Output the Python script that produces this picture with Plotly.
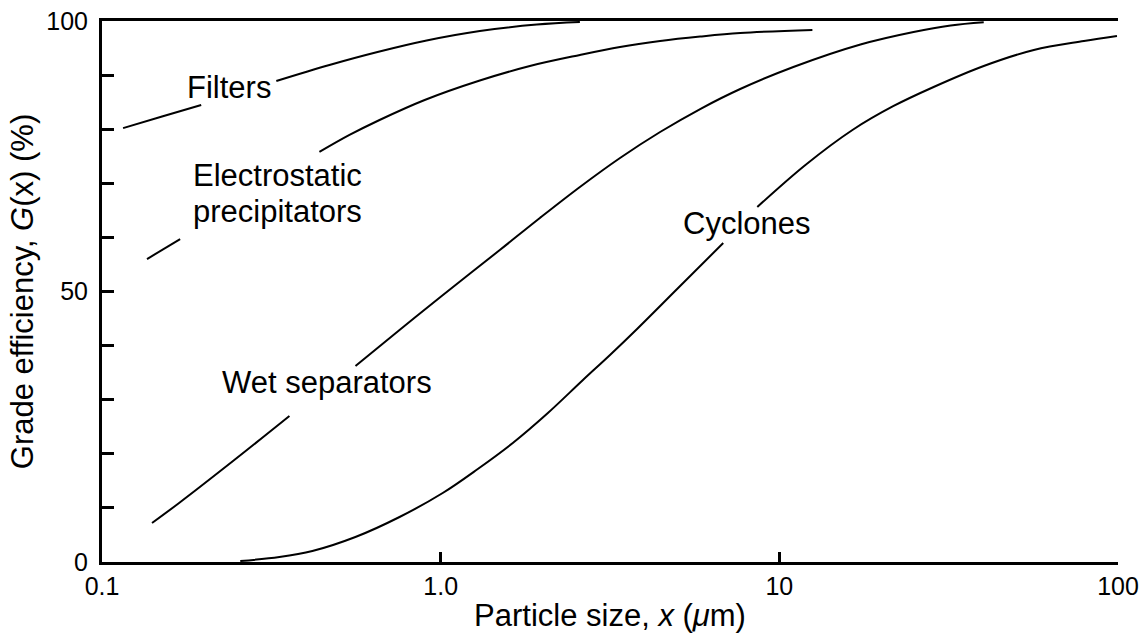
import math
import plotly.graph_objects as go

# Grade efficiency curves, G(x) in %, vs particle size x in micrometres.
# None entries break a curve where its label sits.
filters_x = [0.1154, 0.1504, 0.1963, None,
             0.3271, 0.4694, 0.651, 0.909, 1.305, 1.923, 2.577]
filters_y = [80.2, 82.35, 84.47, None,
             88.91, 91.87, 94.27, 96.40, 98.15, 99.35, 99.82]

esp_x = [0.1358, 0.1701, None,
         0.4385, 0.538, 0.660, 0.897, 1.305, 1.834, 2.577, 3.385, 4.446,
         5.838, 7.665, 12.52]
esp_y = [56.0, 59.7, None,
         75.79, 78.93, 81.70, 85.40, 89.00, 91.68, 93.72, 95.19, 96.30,
         97.13, 97.78, 98.34]

wet_x = [0.1405, 0.1689, 0.2458, 0.3576, None,
         0.5604, 0.756, 1.007, 1.495, 1.963, 2.577, 3.385, 4.446, 5.838,
         7.665, 11.0, 17.36, 24.91, 32.06, 40.14]
wet_y = [7.21, 10.91, 18.85, 26.99, None,
         36.23, 42.88, 49.17, 57.67, 63.59, 69.32, 74.68, 79.48, 83.73,
         87.43, 91.50, 95.66, 97.97, 99.17, 99.76]

cyclone_x = [0.256, 0.334, 0.418, 0.560, 0.756, 1.014, 1.287, 1.633, 2.073,
             2.631, 3.162, 3.801, 4.991, 6.829, None,
             8.609, 11.94, 16.44, 21.75, 28.55, 40.14, 56.42, 79.32, 99.3]
cyclone_y = [0.18, 0.92, 2.03, 4.62, 8.32, 12.75, 17.19, 22.0, 27.54,
             33.64, 38.26, 43.07, 50.46, 58.96, None,
             65.62, 73.38, 79.85, 84.29, 87.80, 91.68, 94.64, 96.30, 97.23]

x_tick_vals = [0.1, 1, 10, 100]
x_tick_text = ["0.1", "1.0", "10", "100"]
y_tick_vals = [0, 10, 20, 30, 40, 50, 60, 70, 80, 90, 100]
y_tick_text = ["0", "", "", "", "", "50", "", "", "", "", "100"]

# Curve labels: (text, x in µm, G in %, horizontal anchor)
labels = [
    ("Filters", 0.2375, 87.7, "center"),
    ("Electrostatic", 0.1834, 71.5, "left"),
    ("precipitators", 0.1834, 64.7, "left"),
    ("Wet separators", 0.463, 33.1, "center"),
    ("Cyclones", 8.04, 62.6, "center"),
]

FONT = "Liberation Sans, Arial, Helvetica, sans-serif"

fig = go.Figure()
for xs, ys in [(filters_x, filters_y), (esp_x, esp_y),
               (wet_x, wet_y), (cyclone_x, cyclone_y)]:
    fig.add_trace(go.Scatter(
        x=xs, y=ys, mode="lines",
        line=dict(color="black", width=2, shape="spline", smoothing=1.0),
        connectgaps=False, hoverinfo="skip", showlegend=False,
    ))

for text, xv, yv, anchor in labels:
    fig.add_annotation(
        x=math.log10(xv), y=yv, xref="x", yref="y", text=text,
        showarrow=False, xanchor=anchor, yanchor="middle",
        font=dict(family=FONT, size=31, color="black"),
    )

fig.update_xaxes(
    type="log", range=[-1, 2],
    tickvals=x_tick_vals, ticktext=x_tick_text,
    ticks="inside", ticklen=10, tickwidth=2.5, tickcolor="black",
    showline=True, linecolor="black", linewidth=2.5, mirror=True,
    showgrid=False, zeroline=False,
    tickfont=dict(family=FONT, size=25, color="black"),
    title=dict(text="Particle size, <i>x</i> (<i>μ</i>m)", standoff=6,
               font=dict(family=FONT, size=31, color="black")),
)
fig.update_yaxes(
    range=[0, 100],
    tickvals=y_tick_vals, ticktext=y_tick_text,
    ticks="inside", ticklen=12, tickwidth=2.5, tickcolor="black",
    showline=True, linecolor="black", linewidth=3,
    showgrid=False, zeroline=False,
    tickfont=dict(family=FONT, size=25, color="black"),
    ticklabelstandoff=6,
    title=dict(text="Grade efficiency, <i>G</i>(x) (%)", standoff=4,
               font=dict(family=FONT, size=31, color="black")),
)

fig.update_layout(
    width=1142, height=637,
    margin=dict(l=102, r=24, t=21, b=75, autoexpand=False),
    paper_bgcolor="white", plot_bgcolor="white",
)

fig.write_html("out.html")
